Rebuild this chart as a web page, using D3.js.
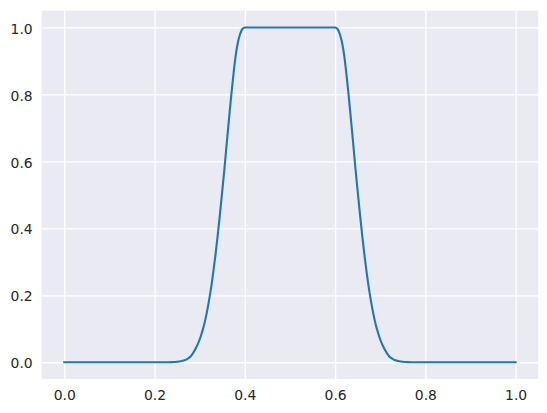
<!DOCTYPE html>
<html>
<head>
<meta charset="utf-8">
<script src="https://cdn.jsdelivr.net/npm/d3@7"></script>
<style>
  html, body { margin: 0; padding: 0; background: #ffffff; }
  svg { display: block; }
  .tick text { font-family: "DejaVu Sans", sans-serif; font-size: 13.9px; fill: #262626; }
</style>
</head>
<body>
<svg id="chart" width="547" height="413"></svg>
<script>
// values
const xValues = [0, 0.1, 0.2, 0.23,
  0.24, 0.25, 0.26, 0.27, 0.28, 0.29, 0.30, 0.305, 0.31, 0.315, 0.32, 0.325, 0.33, 0.335,
  0.34, 0.345, 0.35, 0.355, 0.36, 0.365, 0.37, 0.375, 0.38, 0.385, 0.39, 0.395, 0.40,
  0.5,
  0.60, 0.605, 0.61, 0.615, 0.62, 0.625, 0.63, 0.635, 0.64, 0.645, 0.65, 0.655, 0.66,
  0.665, 0.67, 0.675, 0.68, 0.685, 0.69, 0.695, 0.70, 0.71, 0.72, 0.73, 0.74, 0.75, 0.76,
  0.77, 0.8, 0.9, 1.0];
const yValues = [0, 0, 0, 0,
  0.0005, 0.0015, 0.004, 0.008, 0.017, 0.038, 0.068, 0.089, 0.113, 0.143, 0.179, 0.220, 0.268, 0.321,
  0.380, 0.444, 0.511, 0.580, 0.655, 0.727, 0.798, 0.862, 0.918, 0.957, 0.982, 0.996, 1.0,
  1.0,
  1.0, 0.996, 0.982, 0.957, 0.918, 0.862, 0.798, 0.727, 0.655, 0.580, 0.511, 0.444, 0.380,
  0.321, 0.268, 0.220, 0.179, 0.143, 0.113, 0.089, 0.068, 0.038, 0.017, 0.008, 0.004, 0.0015, 0.0005,
  0, 0, 0, 0];
const xTicks = [0, 0.2, 0.4, 0.6, 0.8, 1.0];
const yTicks = [0, 0.2, 0.4, 0.6, 0.8, 1.0];

const plotLeft = 41.7, plotRight = 538.2, plotTop = 10.7, plotBottom = 379;

const svg = d3.select("#chart");

const xScale = d3.scaleLinear().domain([-0.05, 1.05]).range([plotLeft, plotRight]);
const yScale = d3.scaleLinear().domain([-0.05, 1.05]).range([plotBottom, plotTop]);

// background of the axes
svg.append("rect")
  .attr("x", plotLeft).attr("y", plotTop)
  .attr("width", plotRight - plotLeft).attr("height", plotBottom - plotTop)
  .attr("fill", "#EAEAF2");

// x axis + vertical grid
const xAxis = svg.append("g")
  .attr("transform", `translate(0,${plotBottom})`)
  .call(d3.axisBottom(xScale).tickValues(xTicks).tickFormat(d3.format(".1f"))
    .tickSizeInner(-(plotBottom - plotTop)).tickSizeOuter(0).tickPadding(7));
xAxis.select(".domain").remove();
xAxis.selectAll(".tick line").attr("stroke", "#ffffff").attr("stroke-width", 1.3);
xAxis.selectAll(".tick text").attr("dy", "0.71em").attr("y", 11);

// y axis + horizontal grid
const yAxis = svg.append("g")
  .attr("transform", `translate(${plotLeft},0)`)
  .call(d3.axisLeft(yScale).tickValues(yTicks).tickFormat(d3.format(".1f"))
    .tickSizeInner(-(plotRight - plotLeft)).tickSizeOuter(0).tickPadding(9));
yAxis.select(".domain").remove();
yAxis.selectAll(".tick line").attr("stroke", "#ffffff").attr("stroke-width", 1.3);
yAxis.selectAll(".tick text").attr("dy", "0.32em").attr("x", -9)
  .attr("transform", "translate(0,1.2)");

const pts = xValues.map((x, i) => [x, yValues[i]]);

const line = d3.line()
  .x(d => xScale(d[0]))
  .y(d => yScale(d[1]))
  .curve(d3.curveMonotoneX);

svg.append("path")
  .datum(pts)
  .attr("d", line)
  .attr("fill", "none")
  .attr("stroke", "#1f77b4")
  .attr("stroke-width", 2.1)
  .attr("stroke-linejoin", "round")
  .attr("stroke-linecap", "square");
</script>
</body>
</html>
